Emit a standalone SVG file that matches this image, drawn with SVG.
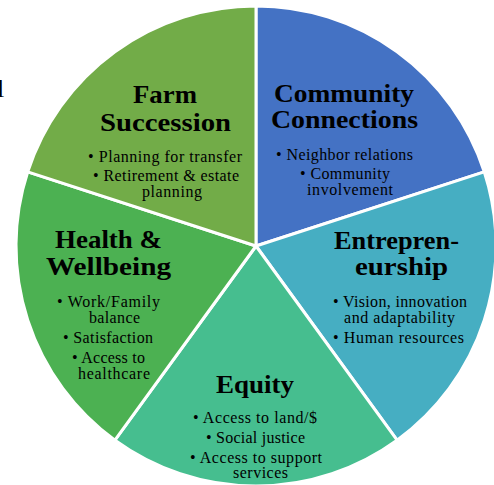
<svg xmlns="http://www.w3.org/2000/svg" width="494" height="485" viewBox="0 0 494 485">
<style>
.s{stroke:#fff;stroke-width:3;stroke-linejoin:round}
.h{font-family:"Liberation Serif",serif;font-weight:bold;font-size:26px;fill:#000;text-anchor:middle}
.b{font-family:"Liberation Serif",serif;font-size:16px;fill:#000}
.l{font-family:"Liberation Serif",serif;font-size:26px;fill:#000}
</style>
<rect width="494" height="485" fill="#fff"/>
<text class="l" x="-3" y="97">l</text>
<g id="community">
<path class="s" fill="#4472C4" d="M256,246 L256,6 A240,240 0 0 1 484.25,171.84 Z"/>
<text class="h" x="344" y="102" textLength="140" lengthAdjust="spacingAndGlyphs">Community</text>
<text class="h" x="344.5" y="128" textLength="147" lengthAdjust="spacingAndGlyphs">Connections</text>
<text class="b" x="276" y="160" textLength="137" lengthAdjust="spacing">• Neighbor relations</text>
<text class="b" x="300" y="179" textLength="90" lengthAdjust="spacing">• Community</text>
<text class="b" x="307" y="195" textLength="86" lengthAdjust="spacing">involvement</text>
</g>
<g id="entrepreneurship">
<path class="s" fill="#46AEC2" d="M256,246 L484.25,171.84 A240,240 0 0 1 397.07,440.16 Z"/>
<text class="h" x="396.5" y="249" textLength="125" lengthAdjust="spacingAndGlyphs">Entrepren-</text>
<text class="h" x="401.5" y="275" textLength="93" lengthAdjust="spacingAndGlyphs">eurship</text>
<text class="b" x="333" y="307" textLength="134" lengthAdjust="spacing">• Vision, innovation</text>
<text class="b" x="344" y="323" textLength="111" lengthAdjust="spacing">and adaptability</text>
<text class="b" x="333" y="343" textLength="131" lengthAdjust="spacing">• Human resources</text>
</g>
<g id="equity">
<path class="s" fill="#46BE8F" d="M256,246 L397.07,440.16 A240,240 0 0 1 114.93,440.16 Z"/>
<text class="h" x="255" y="393" textLength="78" lengthAdjust="spacingAndGlyphs">Equity</text>
<text class="b" x="193" y="423" textLength="124" lengthAdjust="spacing">• Access to land/$</text>
<text class="b" x="206" y="443" textLength="99" lengthAdjust="spacing">• Social justice</text>
<text class="b" x="190" y="463" textLength="132" lengthAdjust="spacing">• Access to support</text>
<text class="b" x="233" y="478" textLength="55" lengthAdjust="spacing">services</text>
</g>
<g id="health">
<path class="s" fill="#4CB152" d="M256,246 L114.93,440.16 A240,240 0 0 1 27.75,171.84 Z"/>
<text class="h" x="108.5" y="248" textLength="107" lengthAdjust="spacingAndGlyphs">Health &amp;</text>
<text class="h" x="108.5" y="275" textLength="125" lengthAdjust="spacingAndGlyphs">Wellbeing</text>
<text class="b" x="57" y="307" textLength="103" lengthAdjust="spacing">• Work/Family</text>
<text class="b" x="89" y="323" textLength="51" lengthAdjust="spacing">balance</text>
<text class="b" x="63" y="343" textLength="90" lengthAdjust="spacing">• Satisfaction</text>
<text class="b" x="72" y="363" textLength="73" lengthAdjust="spacing">• Access to</text>
<text class="b" x="78" y="379" textLength="72" lengthAdjust="spacing">healthcare</text>
</g>
<g id="farm">
<path class="s" fill="#72AC48" d="M256,246 L27.75,171.84 A240,240 0 0 1 256,6 Z"/>
<text class="h" x="165" y="103" textLength="64" lengthAdjust="spacingAndGlyphs">Farm</text>
<text class="h" x="165.5" y="131" textLength="131" lengthAdjust="spacingAndGlyphs">Succession</text>
<text class="b" x="88" y="162" textLength="154" lengthAdjust="spacing">• Planning for transfer</text>
<text class="b" x="93" y="181" textLength="146" lengthAdjust="spacing">• Retirement &amp; estate</text>
<text class="b" x="142" y="197" textLength="60" lengthAdjust="spacing">planning</text>
</g>
</svg>
